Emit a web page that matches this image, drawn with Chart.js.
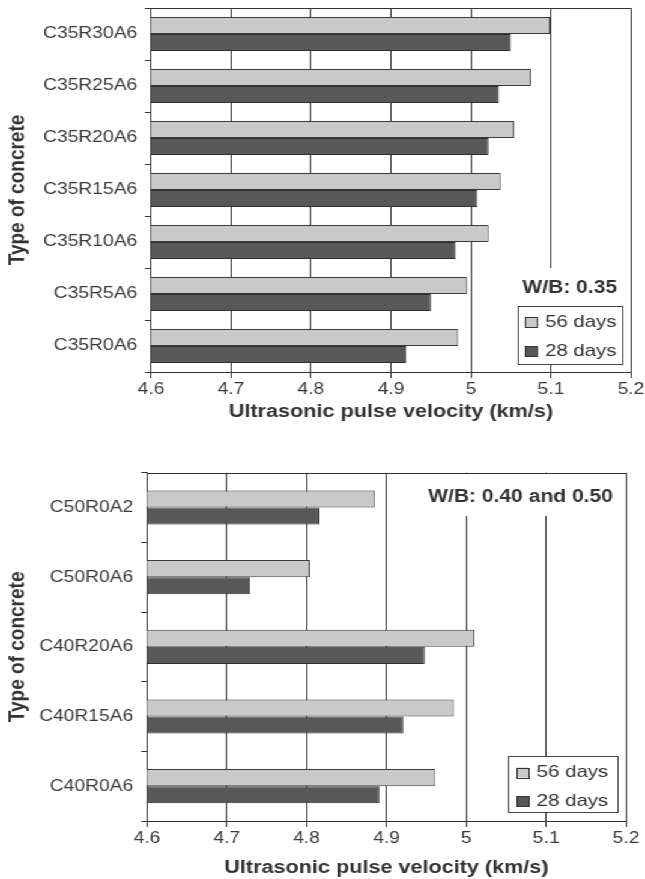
<!DOCTYPE html>
<html>
<head>
<meta charset="utf-8">
<script src="https://cdn.jsdelivr.net/npm/chart.js@4"></script>
<style>
  html, body { margin: 0; padding: 0; background: #fff; overflow: hidden; }
  /* the original figure is stretched sideways, so draw narrow and widen */
  #wrap { width: 537px; transform: scaleX(1.2011); transform-origin: 0 0; }
  .box { position: relative; width: 537px; }
  #top-box { height: 440px; }
  #bottom-box { height: 439px; }
</style>
</head>
<body>
<div id="wrap">
  <div class="box" id="top-box"><canvas id="chart-top"></canvas></div>
  <div class="box" id="bottom-box"><canvas id="chart-bottom"></canvas></div>
</div>
<script>
const seriesNames = ['56 days', '28 days'];
const velocityTicks = [4.6, 4.7, 4.8, 4.9, 5.0, 5.1, 5.2];

const topLabels = ['C35R30A6', 'C35R25A6', 'C35R20A6', 'C35R15A6', 'C35R10A6', 'C35R5A6', 'C35R0A6'];
const top56 = [5.099, 5.075, 5.054, 5.037, 5.022, 4.995, 4.984];
const top28 = [5.050, 5.035, 5.022, 5.008, 4.981, 4.950, 4.919];

const bottomLabels = ['C50R0A2', 'C50R0A6', 'C40R20A6', 'C40R15A6', 'C40R0A6'];
const bottom56 = [4.885, 4.804, 5.010, 4.984, 4.961];
const bottom28 = [4.816, 4.729, 4.948, 4.921, 4.891];

const FONT = "'Liberation Sans', Arial, sans-serif";
const INK = '#333';
Chart.defaults.font.family = FONT;
Chart.defaults.color = INK;

// frame, white patch behind the note, the note and the boxed legend
const annotate = {
  id: 'annotate',
  afterDatasetsDraw(chart, args, o) {
    const {ctx, chartArea: a} = chart;
    const lg = o.legend;
    const lx = a.right - lg.right - lg.w;
    const ly = a.bottom - lg.bottom - lg.h;
    ctx.save();
    ctx.fillStyle = '#fff';
    const p = o.patch(a, lx, ly);
    ctx.fillRect(p[0], p[1], p[2], p[3]);

    ctx.strokeStyle = INK;
    ctx.lineWidth = 1;
    ctx.beginPath();
    ctx.moveTo(a.left, Math.round(a.top) + 0.5);
    ctx.lineTo(a.right, Math.round(a.top) + 0.5);
    ctx.stroke();

    ctx.fillStyle = INK;
    ctx.font = 'bold 17.5px ' + FONT;
    ctx.textBaseline = 'middle';
    const n = o.note(a, lx, ly, lg);
    ctx.textAlign = n.align;
    ctx.fillText(o.noteText, n.x, n.y);

    ctx.fillStyle = '#fff';
    ctx.fillRect(lx, ly, lg.w, lg.h);
    ctx.strokeStyle = '#444';
    ctx.strokeRect(Math.round(lx) + 0.5, Math.round(ly) + 0.5, Math.round(lg.w), Math.round(lg.h));
    ctx.font = '17px ' + FONT;
    ctx.textAlign = 'left';
    chart.data.datasets.forEach((ds, i) => {
      const cy = ly + lg.rows[i];
      ctx.fillStyle = ds.backgroundColor;
      ctx.fillRect(lx + lg.boxX, cy - 5, 10, 10);
      ctx.strokeStyle = INK;
      ctx.strokeRect(Math.round(lx + lg.boxX) + 0.5, Math.round(cy - 5) + 0.5, 10, 10);
      ctx.fillStyle = INK;
      ctx.fillText(ds.label, lx + lg.textX, cy);
    });
    ctx.restore();
  }
};

const createChart = (id, labels, s56, s28, g) => {
  new Chart(document.getElementById(id), {
    type: 'bar',
    data: {
      labels: labels,
      datasets: [{
        label: seriesNames[0],
        data: s56,
        backgroundColor: '#c9c9c9',
        borderColor: '#3a3a3a',
        borderWidth: 1,
        categoryPercentage: g.catPct,
        barPercentage: 1
      }, {
        label: seriesNames[1],
        data: s28,
        backgroundColor: '#585858',
        borderColor: '#2e2e2e',
        borderWidth: 1,
        categoryPercentage: g.catPct,
        barPercentage: 1
      }]
    },
    plugins: [annotate],
    options: {
      indexAxis: 'y',
      responsive: true,
      maintainAspectRatio: false,
      animation: false,
      devicePixelRatio: 1,
      layout: { padding: { top: g.top, right: g.right, bottom: 0, left: 0 } },
      scales: {
        x: {
          min: 4.6,
          max: 5.2,
          afterBuildTicks: (s) => { s.ticks = velocityTicks.map(v => ({ value: v })); },
          afterFit: (s) => {
            s.height = g.xHeight;
            s.paddingLeft = 0;
            s.paddingRight = 0;
          },
          ticks: {
            padding: 1.5,
            color: '#3a3a3a',
            font: { size: 16 },
            maxRotation: 0,
            callback: (v) => String(+v.toFixed(1))
          },
          grid: { color: INK, lineWidth: 1, tickLength: 6 },
          border: { color: INK, width: 1 },
          title: {
            display: true,
            text: 'Ultrasonic pulse velocity (km/s)',
            color: INK,
            font: { size: 18, weight: 'bold' },
            padding: { top: 0, bottom: g.titlePad }
          }
        },
        y: {
          afterFit: (s) => {
            s.width = g.yWidth;
            s.paddingTop = 0;
            s.paddingBottom = 0;
          },
          ticks: { padding: 6.5, color: '#3a3a3a', font: { size: 16 } },
          grid: { drawOnChartArea: false, color: INK, tickLength: 5, offset: true },
          border: { color: INK, width: 1 },
          title: {
            display: true,
            text: 'Type of concrete',
            color: INK,
            font: { size: 19, weight: 'bold' },
            padding: { top: 3.5, bottom: 0 }
          }
        }
      },
      plugins: {
        legend: { display: false },
        tooltip: { enabled: false },
        annotate: {
          noteText: g.noteText,
          legend: g.legend,
          note: g.note,
          patch: g.patch
        }
      }
    }
  });
};

createChart('chart-top', topLabels, top56, top28, {
  catPct: 0.65,
  top: 8,
  right: 11.7,
  xHeight: 68,
  yWidth: 125.7,
  titlePad: 17.5,
  noteText: 'W/B: 0.35',
  legend: { right: 7.7, bottom: 8, w: 86.6, h: 58, boxX: 6, textX: 22.7, rows: [16, 45] },
  note: (a, lx, ly, lg) => ({ align: 'center', x: lx + lg.w / 2, y: ly - 18 }),
  patch: (a, lx, ly) => [lx - 23, ly - 38, a.right - 2 - (lx - 23), 38]
});

createChart('chart-bottom', bottomLabels, bottom56, bottom28, {
  catPct: 0.49,
  top: 32.7,
  right: 15.8,
  xHeight: 58,
  yWidth: 122.4,
  titlePad: 0.5,
  noteText: 'W/B: 0.40 and 0.50',
  legend: { right: 7.5, bottom: 9, w: 90.7, h: 56, boxX: 7.2, textX: 23.8, rows: [16.5, 45] },
  note: (a) => ({ align: 'right', x: a.right - 11, y: a.top + 24 }),
  patch: (a) => [a.right - 176, a.top + 1, 173, 42.3]
});
</script>
</body>
</html>
